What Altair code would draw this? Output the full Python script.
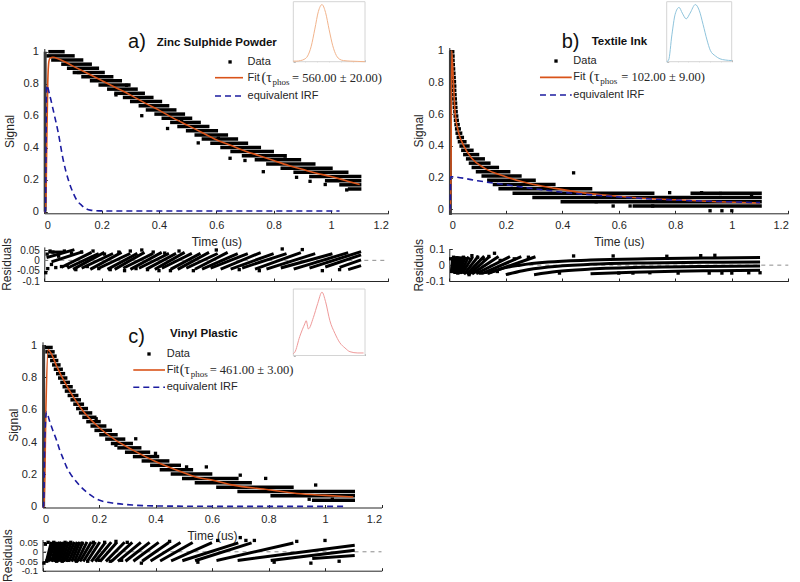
import altair as alt
import pandas as pd

W, H = 800, 582
FONT = "Liberation Sans"
SERIF = "Liberation Serif"
INK = "#262626"
ORANGE = "#D95319"
NAVY = "#1c1ca0"

X_TICKS = [0, 0.2, 0.4, 0.6, 0.8, 1.0, 1.2]
Y_TICKS = [0, 0.2, 0.4, 0.6, 0.8, 1.0]

# ---------------- (a) Zinc Sulphide Powder ----------------
a_lvl = [1.000, 0.974, 0.948, 0.922, 0.896, 0.870, 0.844, 0.818, 0.792, 0.766, 0.740, 0.714,
         0.688, 0.662, 0.636, 0.610, 0.584, 0.558, 0.532, 0.506, 0.480, 0.454, 0.428, 0.402,
         0.376, 0.350, 0.324, 0.298, 0.272, 0.246, 0.220, 0.194, 0.168, 0.142]
a_x0 = [0.020, 0.013, 0.030, 0.065, 0.085, 0.105, 0.135, 0.165, 0.195, 0.225, 0.250, 0.280,
        0.305, 0.335, 0.360, 0.390, 0.415, 0.445, 0.470, 0.500, 0.530, 0.555, 0.585, 0.620,
        0.655, 0.695, 0.740, 0.780, 0.830, 0.875, 0.930, 0.985, 1.035, 1.065]
a_x1 = [0.065, 0.100, 0.130, 0.160, 0.185, 0.205, 0.235, 0.265, 0.295, 0.320, 0.345, 0.375,
        0.405, 0.430, 0.455, 0.485, 0.510, 0.540, 0.570, 0.600, 0.635, 0.670, 0.705, 0.750,
        0.795, 0.840, 0.890, 0.940, 1.000, 1.055, 1.100, 1.100, 1.100, 1.100]
a_r0 = [0.040, 0.015, -0.005, -0.030, -0.035, -0.040, -0.035, -0.040, -0.035, -0.040, -0.040, -0.035,
        -0.040, -0.035, -0.040, -0.040, -0.035, -0.040, -0.040, -0.035, -0.040, -0.040, -0.035, -0.040,
        -0.040, -0.035, -0.040, -0.040, -0.035, -0.040, -0.035, -0.030, -0.032, -0.043]
a_r1 = [0.040, 0.050, 0.040, 0.035, 0.030, 0.035, 0.030, 0.035, 0.030, 0.030, 0.035, 0.030,
        0.035, 0.030, 0.030, 0.035, 0.030, 0.030, 0.035, 0.030, 0.035, 0.030, 0.030, 0.035,
        0.030, 0.030, 0.035, 0.030, 0.030, 0.035, 0.040, 0.024, 0.000, -0.028]
a_out_x = [0.479, 0.537, 0.607, 0.764, 0.648, 0.927, 1.055, 0.287, 0.120, 0.340, 0.430, 0.700, 0.840, 0.980, 0.880, 0.250]
a_out_y = [0.573, 0.430, 0.459, 0.250, 0.334, 0.190, 0.136, 0.790, 0.870, 0.600, 0.520, 0.320, 0.330, 0.170, 0.215, 0.730]
a_rise_x, a_rise_lo, a_rise_hi = [0.003], [0.0], [1.0]
a_fit_x = [0, 0.005, 0.008, 0.012, 0.016, 0.02, 0.03, 0.05, 0.1, 0.15, 0.2, 0.25, 0.3, 0.35, 0.4,
           0.45, 0.5, 0.55, 0.6, 0.65, 0.7, 0.75, 0.8, 0.85, 0.9, 0.95, 1.0, 1.05, 1.1]
a_fit_y = [0, 0.0, 0.35, 0.8, 0.94, 0.96, 0.965, 0.955, 0.91, 0.865, 0.82, 0.775, 0.73, 0.68, 0.635,
           0.585, 0.54, 0.495, 0.45, 0.415, 0.38, 0.35, 0.32, 0.29, 0.265, 0.24, 0.22, 0.195, 0.17]
a_irf_x = [0, 0.004, 0.008, 0.02, 0.031, 0.049, 0.066, 0.084, 0.1, 0.113, 0.13, 0.16, 0.2, 0.3, 0.5, 0.8, 1.03]
a_irf_y = [0, 0.0, 0.79, 0.72, 0.636, 0.49, 0.323, 0.198, 0.12, 0.073, 0.04, 0.01, 0.005, 0.004, 0.004, 0.004, 0.004]
a_noise_x = [0.005, 0.01, 0.012, 0.02, 0.025, 0.03, 0.04, 0.05, 0.06, 0.07, 0.08, 0.095, 0.11, 0.13,
             0.15, 0.17, 0.19, 0.21, 0.23, 0.26, 0.28, 0.3, 0.32, 0.34, 0.36, 0.38, 0.4, 0.42, 0.44,
             0.47, 0.52, 0.6, 0.68, 0.75, 0.83, 0.9, 0.97, 1.03]
a_noise_r = [-0.06, 0.03, -0.04, 0.045, -0.02, 0.04, -0.035, 0.02, -0.03, 0.045, -0.025, 0.035, -0.045, 0.04,
             -0.03, 0.045, -0.04, 0.03, -0.045, 0.04, -0.05, 0.045, -0.04, 0.05, -0.045, 0.04, -0.05, 0.035,
             -0.05, 0.045, -0.05, 0.05, -0.045, -0.05, 0.055, 0.052, -0.05, -0.045]
a_spec_x = [0, 0.05, 0.1, 0.15, 0.2, 0.25, 0.3, 0.35, 0.4, 0.45, 0.5, 0.55, 0.6, 0.65, 0.7, 0.8, 0.9, 1.0]
a_spec_y = [0.01, 0.01, 0.02, 0.04, 0.10, 0.27, 0.57, 0.88, 1.0, 0.86, 0.56, 0.28, 0.11, 0.04, 0.02, 0.01, 0.005, 0.0]
a_tau, a_err = 560.00, 20.00

# ---------------- (b) Textile Ink ----------------
b_lvl = [0.021, 0.048, 0.075, 0.102, 0.102, 0.129, 0.156, 0.183, 0.210, 0.237, 0.264, 0.291, 0.318,
         0.345, 0.372, 0.399, 0.426, 0.453, 0.480, 0.507, 0.534, 0.561, 0.588, 0.615, 0.642, 0.669,
         0.696, 0.723, 0.750, 0.777, 0.804, 0.831, 0.858, 0.885, 0.912, 0.939, 0.966, 0.993]
b_x0 = [0.655, 0.400, 0.300, 0.230, 0.860, 0.180, 0.160, 0.140, 0.120, 0.100, 0.085, 0.075, 0.065,
        0.055, 0.048, 0.042, 0.036, 0.032, 0.028, 0.026, 0.024, 0.022, 0.021, 0.020, 0.018, 0.017,
        0.016, 0.016, 0.015, 0.014, 0.013, 0.013, 0.012, 0.011, 0.010, 0.010, 0.009, 0.008]
b_x1 = [1.100, 1.100, 1.100, 0.720, 1.100, 0.500, 0.370, 0.300, 0.250, 0.210, 0.170, 0.140, 0.120,
        0.100, 0.080, 0.066, 0.055, 0.046, 0.040, 0.035, 0.031, 0.028, 0.026, 0.024, 0.023, 0.022,
        0.021, 0.020, 0.019, 0.019, 0.018, 0.017, 0.016, 0.015, 0.014, 0.013, 0.013, 0.012]
# residual strokes for the short rows (from 0.183 upward)
b_r0 = [-0.05, -0.05, -0.05, -0.05, -0.05, -0.05, -0.05,
        -0.045, -0.045, -0.045, -0.045, -0.045, -0.045, -0.045, -0.045, -0.045, -0.045,
        -0.04, -0.04, -0.04, -0.04, -0.04, -0.04, -0.04, -0.04, -0.04, -0.04, -0.04, -0.04, -0.04, -0.04]
b_r1 = [0.05, 0.05, 0.05, 0.05, 0.05, 0.05, 0.05,
        0.045, 0.045, 0.045, 0.045, 0.045, 0.045, 0.045, 0.045, 0.045, 0.045,
        0.04, 0.04, 0.04, 0.04, 0.04, 0.04, 0.04, 0.04, 0.04, 0.04, 0.04, 0.04, 0.04, 0.04]
# residual traces of the long tail rows
b_tail_id = [1] * 8 + [2] * 7 + [3] * 6 + [4] * 5
b_tail_x = [0.14, 0.18, 0.25, 0.35, 0.5, 0.7, 0.9, 1.1,
            0.2, 0.26, 0.35, 0.5, 0.7, 0.9, 1.1,
            0.3, 0.38, 0.5, 0.7, 0.9, 1.1,
            0.5, 0.65, 0.8, 0.95, 1.1]
b_tail_r = [-0.05, -0.025, 0.0, 0.02, 0.032, 0.04, 0.045, 0.048,
            -0.06, -0.035, -0.012, 0.005, 0.014, 0.018, 0.02,
            -0.06, -0.04, -0.025, -0.013, -0.008, -0.006,
            -0.055, -0.045, -0.038, -0.035, -0.032]
b_out_x = [0.44, 0.893, 0.96, 0.923, 0.965, 1.0, 1.07, 0.52, 0.58, 0.64, 0.72, 0.78]
b_out_y = [0.23, 0.105, 0.10, -0.009, -0.009, -0.009, 0.08, 0.048, 0.021, 0.021, 0.021, 0.105]
b_rise_x, b_rise_lo, b_rise_hi = [0.004], [-0.035], [1.0]
b_fit_x = [0, 0.005, 0.0085, 0.014, 0.02, 0.032, 0.05, 0.08, 0.126, 0.2, 0.28, 0.375, 0.45, 0.55,
           0.65, 0.8, 0.95, 1.1]
b_fit_y = [0, 0.0, 1.0, 0.83, 0.62, 0.49, 0.405, 0.32, 0.258, 0.205, 0.165, 0.132, 0.11, 0.09,
           0.075, 0.06, 0.048, 0.04]
b_irf_x = [0, 0.003, 0.005, 0.1, 0.2, 0.3, 0.4, 0.55, 0.7, 0.85, 1.0, 1.1]
b_irf_y = [0, 0.0, 0.205, 0.18, 0.155, 0.13, 0.108, 0.085, 0.067, 0.055, 0.047, 0.042]
b_noise_x = [0.005, 0.01, 0.015, 0.02, 0.025, 0.03, 0.035, 0.04, 0.05, 0.055, 0.06, 0.07, 0.075, 0.08,
             0.09, 0.1, 0.11, 0.12, 0.13, 0.14, 0.15, 0.16, 0.17, 0.18, 0.44, 0.58, 0.77, 0.89, 0.94,
             0.6, 0.65, 0.71, 0.81, 0.92, 0.965, 1.0, 1.06, 1.1, 0.39, 0.28, 0.23]
b_noise_r = [0.04, -0.04, 0.05, -0.03, 0.045, -0.05, 0.03, -0.045, 0.05, -0.02, 0.04, -0.06, 0.035, 0.06,
             -0.04, 0.05, -0.05, 0.04, -0.045, 0.055, -0.035, 0.075, -0.04, 0.03, 0.058, 0.058, 0.056,
             0.06, 0.062, -0.05, -0.05, -0.048, -0.05, -0.05, -0.05, -0.05, -0.048, -0.048, -0.05,
             0.05, 0.04]
b_spec_x = [0, 0.03, 0.08, 0.13, 0.19, 0.24, 0.3, 0.36, 0.44, 0.5, 0.56, 0.62, 0.67, 0.75, 0.82, 0.9, 1.0]
b_spec_y = [0.0, 0.03, 0.47, 0.83, 0.95, 0.85, 0.75, 0.85, 1.0, 0.9, 0.65, 0.38, 0.2, 0.1, 0.05, 0.03, 0.02]
b_tau, b_err = 102.00, 9.00

# ---------------- (c) Vinyl Plastic ----------------
c_lvl = [0.985, 0.958, 0.931, 0.904, 0.877, 0.850, 0.823, 0.796, 0.769, 0.742, 0.715, 0.688,
         0.661, 0.634, 0.607, 0.580, 0.553, 0.526, 0.499, 0.472, 0.445, 0.418, 0.391, 0.364,
         0.337, 0.310, 0.283, 0.256, 0.229, 0.202, 0.175, 0.148, 0.121, 0.094, 0.067, 0.040]
c_x0 = [0.015, 0.016, 0.022, 0.033, 0.040, 0.046, 0.054, 0.061, 0.069, 0.077, 0.085, 0.095,
        0.105, 0.115, 0.125, 0.135, 0.147, 0.161, 0.176, 0.190, 0.207, 0.228, 0.248, 0.271,
        0.298, 0.326, 0.357, 0.387, 0.421, 0.460, 0.500, 0.545, 0.621, 0.696, 0.813, 0.960]
c_x1 = [0.030, 0.037, 0.044, 0.050, 0.058, 0.066, 0.074, 0.082, 0.091, 0.101, 0.111, 0.121,
        0.130, 0.141, 0.155, 0.170, 0.185, 0.200, 0.220, 0.240, 0.260, 0.287, 0.314, 0.344,
        0.375, 0.407, 0.443, 0.484, 0.527, 0.595, 0.688, 0.735, 0.883, 1.100, 1.100, 1.100]
c_r0 = [-0.045, -0.045, -0.045, -0.045, -0.045, -0.045, -0.045, -0.045, -0.045, -0.045, -0.045, -0.045,
        -0.045, -0.045, -0.045, -0.045, -0.045, -0.045, -0.045, -0.045, -0.045, -0.045, -0.045, -0.045,
        -0.045, -0.045, -0.045, -0.045, -0.045, -0.045, -0.045, -0.045, -0.045, -0.045, -0.045, -0.035]
c_r1 = [0.045, 0.045, 0.045, 0.045, 0.045, 0.045, 0.045, 0.045, 0.045, 0.045, 0.045, 0.045,
        0.045, 0.045, 0.045, 0.045, 0.045, 0.045, 0.045, 0.045, 0.045, 0.045, 0.045, 0.045,
        0.045, 0.045, 0.045, 0.045, 0.045, 0.045, 0.045, 0.045, 0.045, 0.034, 0.007, -0.020]
c_out_x = [0.19, 0.26, 0.51, 0.58, 0.79, 0.70, 0.967, 1.026, 0.944, 0.40, 0.33]
c_out_y = [0.544, 0.38, 0.246, 0.246, 0.175, 0.195, 0.134, 0.046, 0.046, 0.33, 0.42]
c_rise_x, c_rise_lo, c_rise_hi = [0.004], [0.0], [1.0]
c_fit_x = [0, 0.006, 0.012, 0.02, 0.03, 0.05, 0.085, 0.14, 0.2, 0.26, 0.32, 0.4, 0.44, 0.5, 0.55,
           0.6, 0.67, 0.8, 0.9, 1.0, 1.1]
c_fit_y = [0, 0.0, 0.6, 0.97, 0.95, 0.87, 0.75, 0.60, 0.49, 0.41, 0.35, 0.28, 0.25, 0.21, 0.18,
           0.165, 0.135, 0.105, 0.082, 0.07, 0.06]
c_irf_x = [0, 0.004, 0.008, 0.014, 0.025, 0.037, 0.05, 0.061, 0.075, 0.085, 0.1, 0.12, 0.155, 0.2,
           0.26, 0.32, 0.39, 0.5, 0.7, 0.9, 1.07]
c_irf_y = [0, 0.0, 0.4, 0.585, 0.53, 0.47, 0.41, 0.35, 0.29, 0.246, 0.2, 0.154, 0.092, 0.041,
           0.02, 0.01, 0.005, 0.003, 0.002, 0.002, 0.002]
c_noise_x = [0.005, 0.01, 0.015, 0.02, 0.03, 0.04, 0.05, 0.06, 0.07, 0.08, 0.09, 0.1, 0.12, 0.14,
             0.16, 0.18, 0.2, 0.22, 0.24, 0.26, 0.28, 0.3, 0.35, 0.45, 0.55, 0.62, 0.7, 0.72, 0.75,
             0.82, 0.9, 0.95, 1.0, 1.05]
c_noise_r = [-0.06, 0.04, -0.05, 0.05, -0.04, 0.05, -0.05, 0.045, -0.05, 0.05, -0.045, 0.05, -0.05,
             0.045, -0.05, 0.05, -0.045, 0.05, -0.05, 0.055, -0.045, 0.05, -0.06, 0.055, -0.055, 0.06,
             0.075, 0.06, 0.06, -0.055, 0.055, -0.06, 0.06, -0.05]
c_spec_x = [0, 0.02, 0.09, 0.16, 0.18, 0.21, 0.28, 0.34, 0.4, 0.45, 0.51, 0.58, 0.65, 0.72, 0.79, 0.9, 0.98]
c_spec_y = [0.03, 0.05, 0.3, 0.5, 0.55, 0.42, 0.6, 0.82, 1.0, 0.85, 0.55, 0.35, 0.2, 0.12, 0.06, 0.04, 0.04]
c_tau, c_err = 461.00, 3.00


# ---------------- helpers ----------------
def scale(dom, rng):
    return alt.Scale(domain=dom, range=rng, nice=False, zero=False)


def axis_style(**kw):
    base = dict(grid=False, ticks=False, domain=True, domainColor=INK, domainWidth=1, labelFont=FONT,
                labelFontSize=11, labelColor=INK, labelPadding=6, labelOverlap=False, titleFont=FONT,
                titleFontSize=12, titleFontWeight="normal", titleColor=INK)
    base.update(kw)
    return alt.Axis(**base)


class Frame:
    """Pixel placement of one set of axes; every layer drawn in it gets the same scales."""

    def __init__(self, xdom, xrng, ydom, yrng):
        self.xdom, self.xrng, self.ydom, self.yrng = xdom, xrng, ydom, yrng

    def X(self, f, axis=None):
        return alt.X(f, type="quantitative", scale=scale(self.xdom, self.xrng), axis=axis)

    def Y(self, f, axis=None):
        return alt.Y(f, type="quantitative", scale=scale(self.ydom, self.yrng), axis=axis)

    def mid_y(self):
        return (self.yrng[0] + self.yrng[1]) / 2

    def inner_ticks(self, xvals, yvals, color=INK, size=3):
        """Ticks pointing into the plot: a top axis on the bottom edge, a right axis on the left edge."""
        df = pd.DataFrame({"x": [xvals[0]], "y": [yvals[0]]})
        xa = alt.Axis(orient="top", offset=-self.yrng[0], values=xvals, labels=False, domain=False,
                      grid=False, ticks=True, tickSize=size, tickColor=color, tickWidth=1, title=None)
        ya = alt.Axis(orient="right", offset=self.xrng[0] - W, values=yvals, labels=False, domain=False,
                      grid=False, ticks=True, tickSize=size, tickColor=color, tickWidth=1, title=None)
        return alt.Chart(df).mark_point(opacity=0).encode(x=self.X("x:Q", xa), y=self.Y("y:Q", ya))


def main_panel(p):
    f = Frame([0, 1.2], p["x_rng"], p["y_dom"], p["y_rng"])
    xa = axis_style(orient="bottom", offset=p["y_rng"][0] - H, values=X_TICKS, format="~g",
                    title="Time (us)", titlePadding=6)
    ya = axis_style(orient="left", offset=-p["x_rng"][0], values=Y_TICKS, format="~g",
                    title="Signal", titleX=p["sig_tx"], titleY=f.mid_y())
    out = []
    out.append(alt.Chart(pd.DataFrame({"lvl": p["lvl"], "x0": p["x0"], "x1": p["x1"]})).mark_rule(
        color="black", strokeWidth=3.5, strokeCap="square").encode(
        x=f.X("x0", xa), x2="x1", y=f.Y("lvl", ya)))
    out.append(alt.Chart(pd.DataFrame({"x": p["rise_x"], "lo": p["rise_lo"], "hi": p["rise_hi"]})).mark_rule(
        color="#3a3a3a", strokeWidth=3).encode(x=f.X("x"), y=f.Y("lo"), y2="hi"))
    out.append(alt.Chart(pd.DataFrame({"x": p["out_x"], "y": p["out_y"]})).mark_square(
        color="black", size=11, opacity=1).encode(x=f.X("x"), y=f.Y("y")))
    out.append(alt.Chart(pd.DataFrame({"x": p["fit_x"], "y": p["fit_y"]})).mark_line(
        color=ORANGE, strokeWidth=1.6, interpolate="monotone").encode(x=f.X("x"), y=f.Y("y")))
    out.append(alt.Chart(pd.DataFrame({"x": p["irf_x"], "y": p["irf_y"]})).mark_line(
        color=NAVY, strokeWidth=1.6, strokeDash=[6, 4], interpolate="monotone").encode(x=f.X("x"), y=f.Y("y")))

    lg = p["legend"]
    out.append(alt.Chart(pd.DataFrame({"x": [lg["mx"]], "y": [lg["my"]]})).mark_square(
        color="black", size=11, opacity=1).encode(x=f.X("x"), y=f.Y("y")))
    out.append(alt.Chart(pd.DataFrame({"x0": [lg["lx0"]], "x1": [lg["lx1"]], "y": [lg["fy"]]})).mark_rule(
        color=ORANGE, strokeWidth=1.6).encode(x=f.X("x0"), x2="x1", y=f.Y("y")))
    out.append(alt.Chart(pd.DataFrame({"x0": [lg["lx0"]], "x1": [lg["lx1"]], "y": [lg["iy"]]})).mark_rule(
        color=NAVY, strokeWidth=1.6, strokeDash=[6, 4]).encode(x=f.X("x0"), x2="x1", y=f.Y("y")))

    def txt(x, y, s, **kw):
        st = dict(align="left", baseline="middle", font=FONT, fontSize=11, color=INK)
        st.update(kw)
        return alt.Chart(pd.DataFrame({"x": [x], "y": [y], "t": [s]})).mark_text(**st).encode(
            x=f.X("x"), y=f.Y("y"), text="t:N")

    d1, d2, d3 = lg["dx"]
    out += [
        txt(lg["tx"], lg["my"], "Data"),
        txt(lg["tx"], lg["fy"], "Fit"),
        txt(lg["tx"], lg["fy"], "(\u03c4", dx=d1, font=SERIF, fontSize=14),
        txt(lg["tx"], lg["fy"], "phos", dx=d2, dy=4, font=SERIF, fontSize=9),
        txt(lg["tx"], lg["fy"], f"= {p['tau']:.2f} \u00b1 {p['err']:.2f})", dx=d3, font=SERIF, fontSize=12.5),
        txt(lg["tx"], lg["iy"], "equivalent IRF"),
        txt(p["tag_x"], p["tag_y"], p["tag"], fontSize=20, color="#111111"),
        txt(p["name_x"], p["name_y"], p["name"], fontSize=11.5, fontWeight="bold", color="#111111"),
    ]
    out.append(f.inner_ticks(X_TICKS, Y_TICKS))
    return out


def resid_panel(p):
    f = Frame([0, 1.2], p["x_rng"], p["r_dom"], p["r_rng"])
    xa = axis_style(orient="bottom", offset=p["r_rng"][0] - H, values=X_TICKS, labels=False, title=None)
    ya = axis_style(orient="left", offset=-p["x_rng"][0], values=p["r_ticks"], format="~g",
                    labelExpr="replace(datum.label, '\u2212', '-')", labelFontSize=p["r_font"],
                    labelPadding=5, title="Residuals", titleX=p["res_tx"], titleY=f.mid_y())
    out = []
    out.append(alt.Chart(pd.DataFrame({"x0": [0.0], "x1": [1.2], "y": [0.0]})).mark_rule(
        color="#8c8c8c", strokeWidth=1, strokeDash=[4, 4]).encode(x=f.X("x0", xa), x2="x1", y=f.Y("y", ya)))
    out.append(alt.Chart(pd.DataFrame({"x0": p["rx0"], "x1": p["rx1"], "r0": p["r0"], "r1": p["r1"]})).mark_rule(
        color="black", strokeWidth=3, strokeCap="square").encode(x=f.X("x0"), x2="x1", y=f.Y("r0"), y2="r1"))
    if p.get("tail_id"):
        out.append(alt.Chart(pd.DataFrame({"id": p["tail_id"], "x": p["tail_x"], "r": p["tail_r"]})).mark_line(
            color="black", strokeWidth=3, interpolate="monotone").encode(x=f.X("x"), y=f.Y("r"), detail="id:N"))
    out.append(alt.Chart(pd.DataFrame({"x": p["noise_x"], "r": p["noise_r"]})).mark_square(
        color="black", size=11, opacity=1).encode(x=f.X("x"), y=f.Y("r")))
    out.append(f.inner_ticks(X_TICKS, p["r_ticks"]))
    return out


def inset_panel(p):
    ib = p["inset"]
    f = Frame([0, 1], ib["x"], [0, 1.05], ib["y"])
    out = []
    out.append(alt.Chart(pd.DataFrame({"x0": [0.0], "x1": [1.0], "y0": [0.0], "y1": [1.05]})).mark_rect(
        fill="white", stroke="#d4d4d4", strokeWidth=1).encode(x=f.X("x0"), x2="x1", y=f.Y("y0"), y2="y1"))
    out.append(alt.Chart(pd.DataFrame({"x": p["spec_x"], "y": p["spec_y"]})).mark_line(
        color=ib["color"], strokeWidth=1, interpolate="monotone").encode(x=f.X("x"), y=f.Y("y")))
    out.append(f.inner_ticks([0, 1 / 6, 2 / 6, 3 / 6, 4 / 6, 5 / 6, 1.0],
                             [0, 0.1, 0.2, 0.3, 0.4, 0.5, 0.6, 0.7, 0.8, 0.9, 1.0], color="#b5b5b5", size=2))
    return out


panels = [
    dict(lvl=a_lvl, x0=a_x0, x1=a_x1, rx0=a_x0, rx1=a_x1, r0=a_r0, r1=a_r1,
         out_x=a_out_x, out_y=a_out_y, rise_x=a_rise_x, rise_lo=a_rise_lo, rise_hi=a_rise_hi,
         fit_x=a_fit_x, fit_y=a_fit_y, irf_x=a_irf_x, irf_y=a_irf_y,
         noise_x=a_noise_x, noise_r=a_noise_r, spec_x=a_spec_x, spec_y=a_spec_y,
         tau=a_tau, err=a_err, tag="a)", name="Zinc Sulphide Powder",
         x_rng=[44.3, 388.3], y_dom=[-0.01, 1.02], y_rng=[213.3, 48.5],
         r_dom=[-0.1, 0.065], r_rng=[281, 246.9], r_ticks=[-0.1, -0.05, 0, 0.05], r_font=10,
         sig_tx=-28, res_tx=-30.5,
         tag_x=0.292, tag_y=1.0625, name_x=0.392, name_y=1.0525,
         legend=dict(mx=0.648, my=0.936, lx0=0.5955, lx1=0.6931, fy=0.8375, iy=0.723, tx=0.709,
                     dx=(14, 25, 44.5)),
         inset=dict(x=[293.3, 365], y=[61.7, 1.7], color="#f2b48c")),
    dict(lvl=b_lvl, x0=b_x0, x1=b_x1, rx0=b_x0[7:], rx1=b_x1[7:], r0=b_r0, r1=b_r1,
         tail_id=b_tail_id, tail_x=b_tail_x, tail_r=b_tail_r,
         out_x=b_out_x, out_y=b_out_y, rise_x=b_rise_x, rise_lo=b_rise_lo, rise_hi=b_rise_hi,
         fit_x=b_fit_x, fit_y=b_fit_y, irf_x=b_irf_x, irf_y=b_irf_y,
         noise_x=b_noise_x, noise_r=b_noise_r, spec_x=b_spec_x, spec_y=b_spec_y,
         tau=b_tau, err=b_err, tag="b)", name="Textile Ink",
         x_rng=[449.3, 788.3], y_dom=[-0.025, 1.02], y_rng=[213.3, 47.5],
         r_dom=[-0.1, 0.105], r_rng=[281, 248.5], r_ticks=[-0.1, 0, 0.1], r_font=11,
         sig_tx=-23.5, res_tx=-23.5,
         tag_x=0.398, tag_y=1.056, name_x=0.504, name_y=1.053,
         legend=dict(mx=0.3777, my=0.9347, lx0=0.321, lx1=0.4333, fy=0.832, iy=0.7204, tx=0.439,
                     dx=(16, 27, 48)),
         inset=dict(x=[666.7, 731.7], y=[61.7, 1.7], color="#8fc4dc")),
    dict(lvl=c_lvl, x0=c_x0, x1=c_x1, rx0=c_x0, rx1=c_x1, r0=c_r0, r1=c_r1,
         out_x=c_out_x, out_y=c_out_y, rise_x=c_rise_x, rise_lo=c_rise_lo, rise_hi=c_rise_hi,
         fit_x=c_fit_x, fit_y=c_fit_y, irf_x=c_irf_x, irf_y=c_irf_y,
         noise_x=c_noise_x, noise_r=c_noise_r, spec_x=c_spec_x, spec_y=c_spec_y,
         tau=c_tau, err=c_err, tag="c)", name="Vinyl Plastic",
         x_rng=[42.5, 381.5], y_dom=[-0.005, 1.02], y_rng=[507.5, 341.8],
         r_dom=[-0.1, 0.065], r_rng=[570.7, 539.5], r_ticks=[-0.1, -0.05, 0, 0.05], r_font=9.5,
         sig_tx=-22.5, res_tx=-28.5,
         tag_x=0.3037, tag_y=1.0516, name_x=0.4513, name_y=1.0664,
         legend=dict(mx=0.377, my=0.9446, lx0=0.3214, lx1=0.4336, fy=0.8456, iy=0.7386, tx=0.4396,
                     dx=(13, 24, 43)),
         inset=dict(x=[293.3, 365], y=[355.5, 289], color="#ef9a9a")),
]

children = []
for p in panels:
    children += main_panel(p)
    children += resid_panel(p)
    children += inset_panel(p)

chart = alt.layer(*children).resolve_scale(x="independent", y="independent").resolve_axis(
    x="independent", y="independent").properties(
    width=W, height=H, autosize=alt.AutoSizeParams(type="none"), padding=0,
    background="white").configure_view(stroke="transparent")

chart.save("out.html", embed_options={"renderer": "svg", "actions": False})
